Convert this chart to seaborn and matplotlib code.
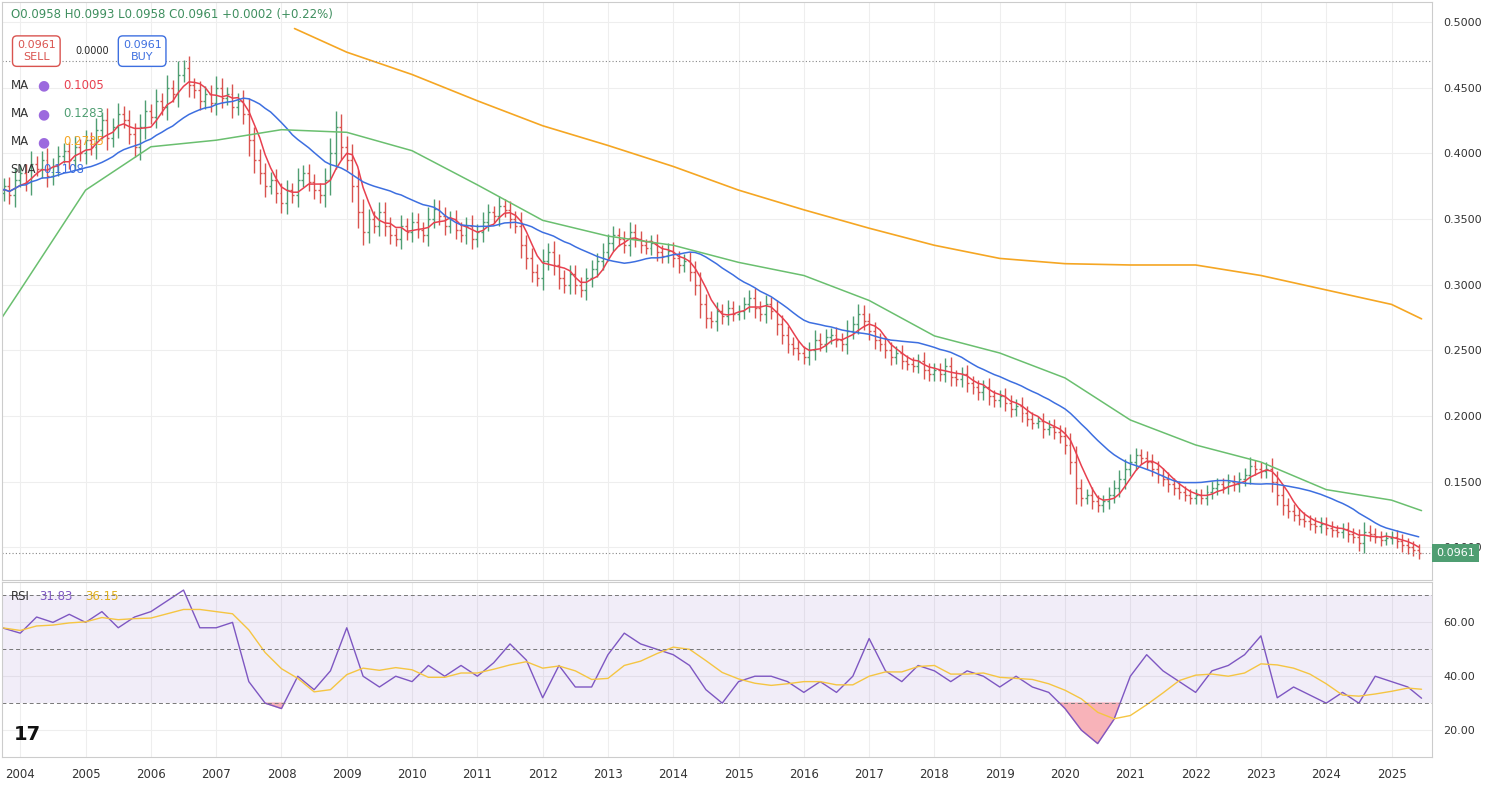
import numpy as np
import pandas as pd
import matplotlib.pyplot as plt
import seaborn as sns

# monthly closes, Sep 2003 .. Jun 2025
closes = [
    0.370, 0.375, 0.368, 0.380,
    0.385, 0.378, 0.392, 0.388, 0.395, 0.383, 0.390, 0.398, 0.402, 0.395, 0.405, 0.400,
    0.410, 0.405, 0.418, 0.425, 0.412, 0.420, 0.430, 0.425, 0.415, 0.405, 0.420, 0.432,
    0.428, 0.440, 0.435, 0.450, 0.445, 0.460, 0.465, 0.452, 0.448, 0.440, 0.445, 0.438,
    0.450, 0.442, 0.445, 0.435, 0.440, 0.430, 0.410, 0.395, 0.385, 0.375, 0.380, 0.370,
    0.362, 0.372, 0.368, 0.380, 0.385, 0.378, 0.372, 0.368, 0.380, 0.400, 0.420, 0.405,
    0.395, 0.375, 0.355, 0.340, 0.350, 0.345, 0.355, 0.345, 0.338, 0.335, 0.345, 0.340,
    0.348, 0.342, 0.338, 0.350, 0.358, 0.352, 0.345, 0.350, 0.342, 0.338, 0.345, 0.335,
    0.340, 0.348, 0.355, 0.352, 0.360, 0.357, 0.350, 0.345, 0.330, 0.320, 0.310, 0.305,
    0.318, 0.325, 0.315, 0.305, 0.300, 0.308, 0.300, 0.296, 0.305, 0.312, 0.318, 0.325,
    0.332, 0.338, 0.335, 0.330, 0.340, 0.335, 0.330, 0.328, 0.332, 0.325, 0.322, 0.326,
    0.320, 0.315, 0.318, 0.310, 0.300, 0.285, 0.275, 0.272, 0.280, 0.276, 0.282, 0.278,
    0.280, 0.285, 0.290, 0.282, 0.278, 0.285, 0.280, 0.270, 0.262, 0.255, 0.252, 0.248,
    0.245, 0.250, 0.258, 0.255, 0.260, 0.262, 0.258, 0.255, 0.265, 0.270, 0.278, 0.272,
    0.265, 0.258, 0.255, 0.250, 0.245, 0.248, 0.242, 0.240, 0.238, 0.242, 0.235, 0.232,
    0.235, 0.232, 0.238, 0.230, 0.228, 0.232, 0.225, 0.222, 0.218, 0.222, 0.215, 0.212,
    0.215, 0.210, 0.205, 0.208, 0.202, 0.198, 0.195, 0.196, 0.190, 0.192, 0.188, 0.185,
    0.178, 0.165, 0.145, 0.138, 0.140, 0.135, 0.132, 0.135, 0.140, 0.145, 0.152, 0.160,
    0.165, 0.170, 0.168, 0.165, 0.160, 0.155, 0.152, 0.148, 0.145, 0.142, 0.140, 0.138,
    0.140, 0.138, 0.142, 0.145, 0.148, 0.146, 0.150, 0.148, 0.152, 0.155, 0.162, 0.160,
    0.158, 0.160, 0.150, 0.140, 0.132, 0.128, 0.125, 0.122, 0.120, 0.118, 0.116, 0.118,
    0.115, 0.113, 0.112, 0.114, 0.110, 0.108, 0.103, 0.112, 0.110, 0.108, 0.106, 0.107,
    0.108, 0.105, 0.102, 0.100, 0.098, 0.0961,
]
first_open = 0.366

# long moving averages
green_t = [2003.72, 2004, 2005, 2006, 2007, 2008, 2009, 2010, 2011, 2012, 2013, 2014,
           2015, 2016, 2017, 2018, 2019, 2020, 2021, 2022, 2023, 2024, 2025, 2025.46]
green_v = [0.275, 0.296, 0.372, 0.405, 0.410, 0.418, 0.416, 0.402, 0.376, 0.349, 0.337, 0.330,
           0.317, 0.307, 0.288, 0.261, 0.248, 0.229, 0.197, 0.178, 0.165, 0.144, 0.136, 0.128]
orange_t = [2008.2, 2009, 2010, 2011, 2012, 2013, 2014, 2015, 2016, 2017, 2018, 2019,
            2020, 2021, 2022, 2023, 2024, 2025, 2025.46]
orange_v = [0.495, 0.477, 0.460, 0.440, 0.421, 0.406, 0.390, 0.372, 0.357, 0.343, 0.330, 0.320,
            0.316, 0.315, 0.315, 0.307, 0.296, 0.285, 0.274]

# RSI
rsi_vals = [58,
            56, 62, 60, 63,  60, 64, 58, 62,  64, 68, 72, 58,  58, 60, 38, 30,
            28, 40, 35, 42,  58, 40, 36, 40,  38, 44, 40, 44,  40, 45, 52, 46,
            32, 44, 36, 36,  48, 56, 52, 50,  48, 44, 35, 30,  38, 40, 40, 38,
            34, 38, 34, 40,  54, 42, 38, 44,  42, 38, 42, 40,  36, 40, 36, 34,
            28, 20, 15, 24,  40, 48, 42, 38,  34, 42, 44, 48,  55, 32, 36, 33,
            30, 34, 30, 40,  38, 36, 31.83]
rsi_t = [2003.72] + [y + q / 4 for y in range(2004, 2025) for q in range(4)] + [2025.0, 2025.25, 2025.46]

years = list(range(2004, 2026))

c = np.array(closes)
o = np.concatenate([[first_open], c[:-1]])
hi = np.maximum(o, c) + np.abs(c - o) * 0.4 + 0.004
lo = np.minimum(o, c) - np.abs(c - o) * 0.4 - 0.004
t = 2003 + 8 / 12 + np.arange(len(c)) / 12

s = pd.Series(c)
red_ma = s.rolling(5, min_periods=1).mean()
blue_ma = s.rolling(20, min_periods=1).mean()
rsi = pd.Series(rsi_vals, dtype=float)
rsi_ma = rsi.rolling(5, min_periods=1).mean()

sns.set_style("white")
plt.rcParams['font.family'] = ['DejaVu Sans']
W, H = 1491, 792
fig = plt.figure(figsize=(W / 100, H / 100), dpi=100)
ax = fig.add_axes([2 / W, (H - 580) / H, 1430 / W, 578 / H])
ax2 = fig.add_axes([2 / W, (H - 757) / H, 1430 / W, 175 / H], sharex=ax)

green, red = "#4f9e72", "#d9534f"
cols = np.where(c >= o, green, red)
ax.vlines(t, lo, hi, colors=cols, lw=1)
ax.hlines(o, t - 0.03, t, colors=cols, lw=1)
ax.hlines(c, t, t + 0.03, colors=cols, lw=1)

sns.lineplot(x=t, y=red_ma, ax=ax, color="#e8404f", lw=1.1)
sns.lineplot(x=t, y=blue_ma, ax=ax, color="#3d6fe0", lw=1.1)
sns.lineplot(x=green_t, y=green_v, ax=ax, color="#6abf6f", lw=1.1)
sns.lineplot(x=orange_t, y=orange_v, ax=ax, color="#f5a623", lw=1.2)

ax.axhline(0.4705, color="#888", ls=(0, (1, 2)), lw=0.8)
ax.axhline(c[-1], color="#888", ls=(0, (1, 2)), lw=0.8)
ax.set_xlim(2003.72, 2025.62)
ax.set_ylim(0.0752, 0.5152)
ax.set_yticks(np.arange(0.10, 0.51, 0.05))
ax.yaxis.tick_right()
ax.set_yticklabels([f"{v:.4f}" for v in np.arange(0.10, 0.51, 0.05)], fontsize=8, color="#333")
ax.grid(True, color="#eeeeee", lw=0.8)
ax.tick_params(axis='x', labelbottom=False, length=0)
ax.tick_params(axis='y', length=0, pad=8)
ax.text(1.003, c[-1] - 0.0005, f"{c[-1]:.4f}", transform=ax.get_yaxis_transform(), fontsize=8,
        color="white", va="center", zorder=10,
        bbox=dict(boxstyle="square,pad=0.35", fc="#4f9e72", ec="none"))

# legend text
ax.text(0.006, 0.972, "O0.0958 H0.0993 L0.0958 C0.0961 +0.0002 (+0.22%)", transform=ax.transAxes,
        fontsize=8.5, color="#3f8f5f")
ax.text(0.024, 0.915, "0.0961\nSELL", transform=ax.transAxes, fontsize=8, color="#d9534f", ha="center",
        va="center", bbox=dict(boxstyle="round,pad=0.4", fc="white", ec="#d9534f"))
ax.text(0.063, 0.915, "0.0000", transform=ax.transAxes, fontsize=7, ha="center", va="center")
ax.text(0.098, 0.915, "0.0961\nBUY", transform=ax.transAxes, fontsize=8, color="#3d6fe0", ha="center",
        va="center", bbox=dict(boxstyle="round,pad=0.4", fc="white", ec="#3d6fe0"))
for i, (lab, val, col) in enumerate([("MA", "0.1005", "#e8404f"), ("MA", "0.1283", "#4f9e72"),
                                      ("MA", "0.2735", "#f5a623")]):
    yy = 0.855 - i * 0.0485
    ax.text(0.006, yy, lab, transform=ax.transAxes, fontsize=8.5, color="#333", va="center")
    ax.text(0.025, yy, "●", transform=ax.transAxes, fontsize=10, color="#9c6ade", va="center")
    ax.text(0.043, yy, val, transform=ax.transAxes, fontsize=8.5, color=col, va="center")
ax.text(0.006, 0.855 - 3 * 0.0485, "SMA", transform=ax.transAxes, fontsize=8.5, color="#333", va="center")
ax.text(0.029, 0.855 - 3 * 0.0485, "0.1108", transform=ax.transAxes, fontsize=8.5, color="#3d6fe0",
        va="center")

# RSI panel
sns.lineplot(x=rsi_t, y=rsi, ax=ax2, color="#7e57c2", lw=1)
sns.lineplot(x=rsi_t, y=rsi_ma, ax=ax2, color="#f5c542", lw=1)
ax2.axhspan(30, 70, color="#7e57c2", alpha=0.1, lw=0)
for v in (70, 50, 30):
    ax2.axhline(v, color="#777", ls=(0, (4, 3)), lw=0.7)
ax2.fill_between(rsi_t, rsi, 30, where=rsi < 30, color="#f7a0a8", alpha=0.8, interpolate=True)
ax2.set_ylim(10, 75)
ax2.set_yticks([20, 40, 60])
ax2.yaxis.tick_right()
ax2.set_yticklabels(["20.00", "40.00", "60.00"], fontsize=8, color="#333")
ax2.grid(True, color="#eeeeee", lw=0.8)
ax2.set_xticks(years)
ax2.set_xticklabels([str(y) for y in years], fontsize=8.5, color="#333")
ax2.tick_params(length=0, pad=8)
ax2.set_xlabel("")
ax2.text(0.006, 0.9, "RSI", transform=ax2.transAxes, fontsize=8.5, color="#333")
ax2.text(0.026, 0.9, "31.83", transform=ax2.transAxes, fontsize=8.5, color="#7e57c2")
ax2.text(0.058, 0.9, "36.15", transform=ax2.transAxes, fontsize=8.5, color="#e0b020")
ax2.text(0.008, 0.1, "17", transform=ax2.transAxes, fontsize=14, fontweight="bold", color="#111")

for a in (ax, ax2):
    for sp in a.spines.values():
        sp.set_color("#cccccc")
        sp.set_linewidth(0.8)

fig.savefig("out.png", dpi=100)
